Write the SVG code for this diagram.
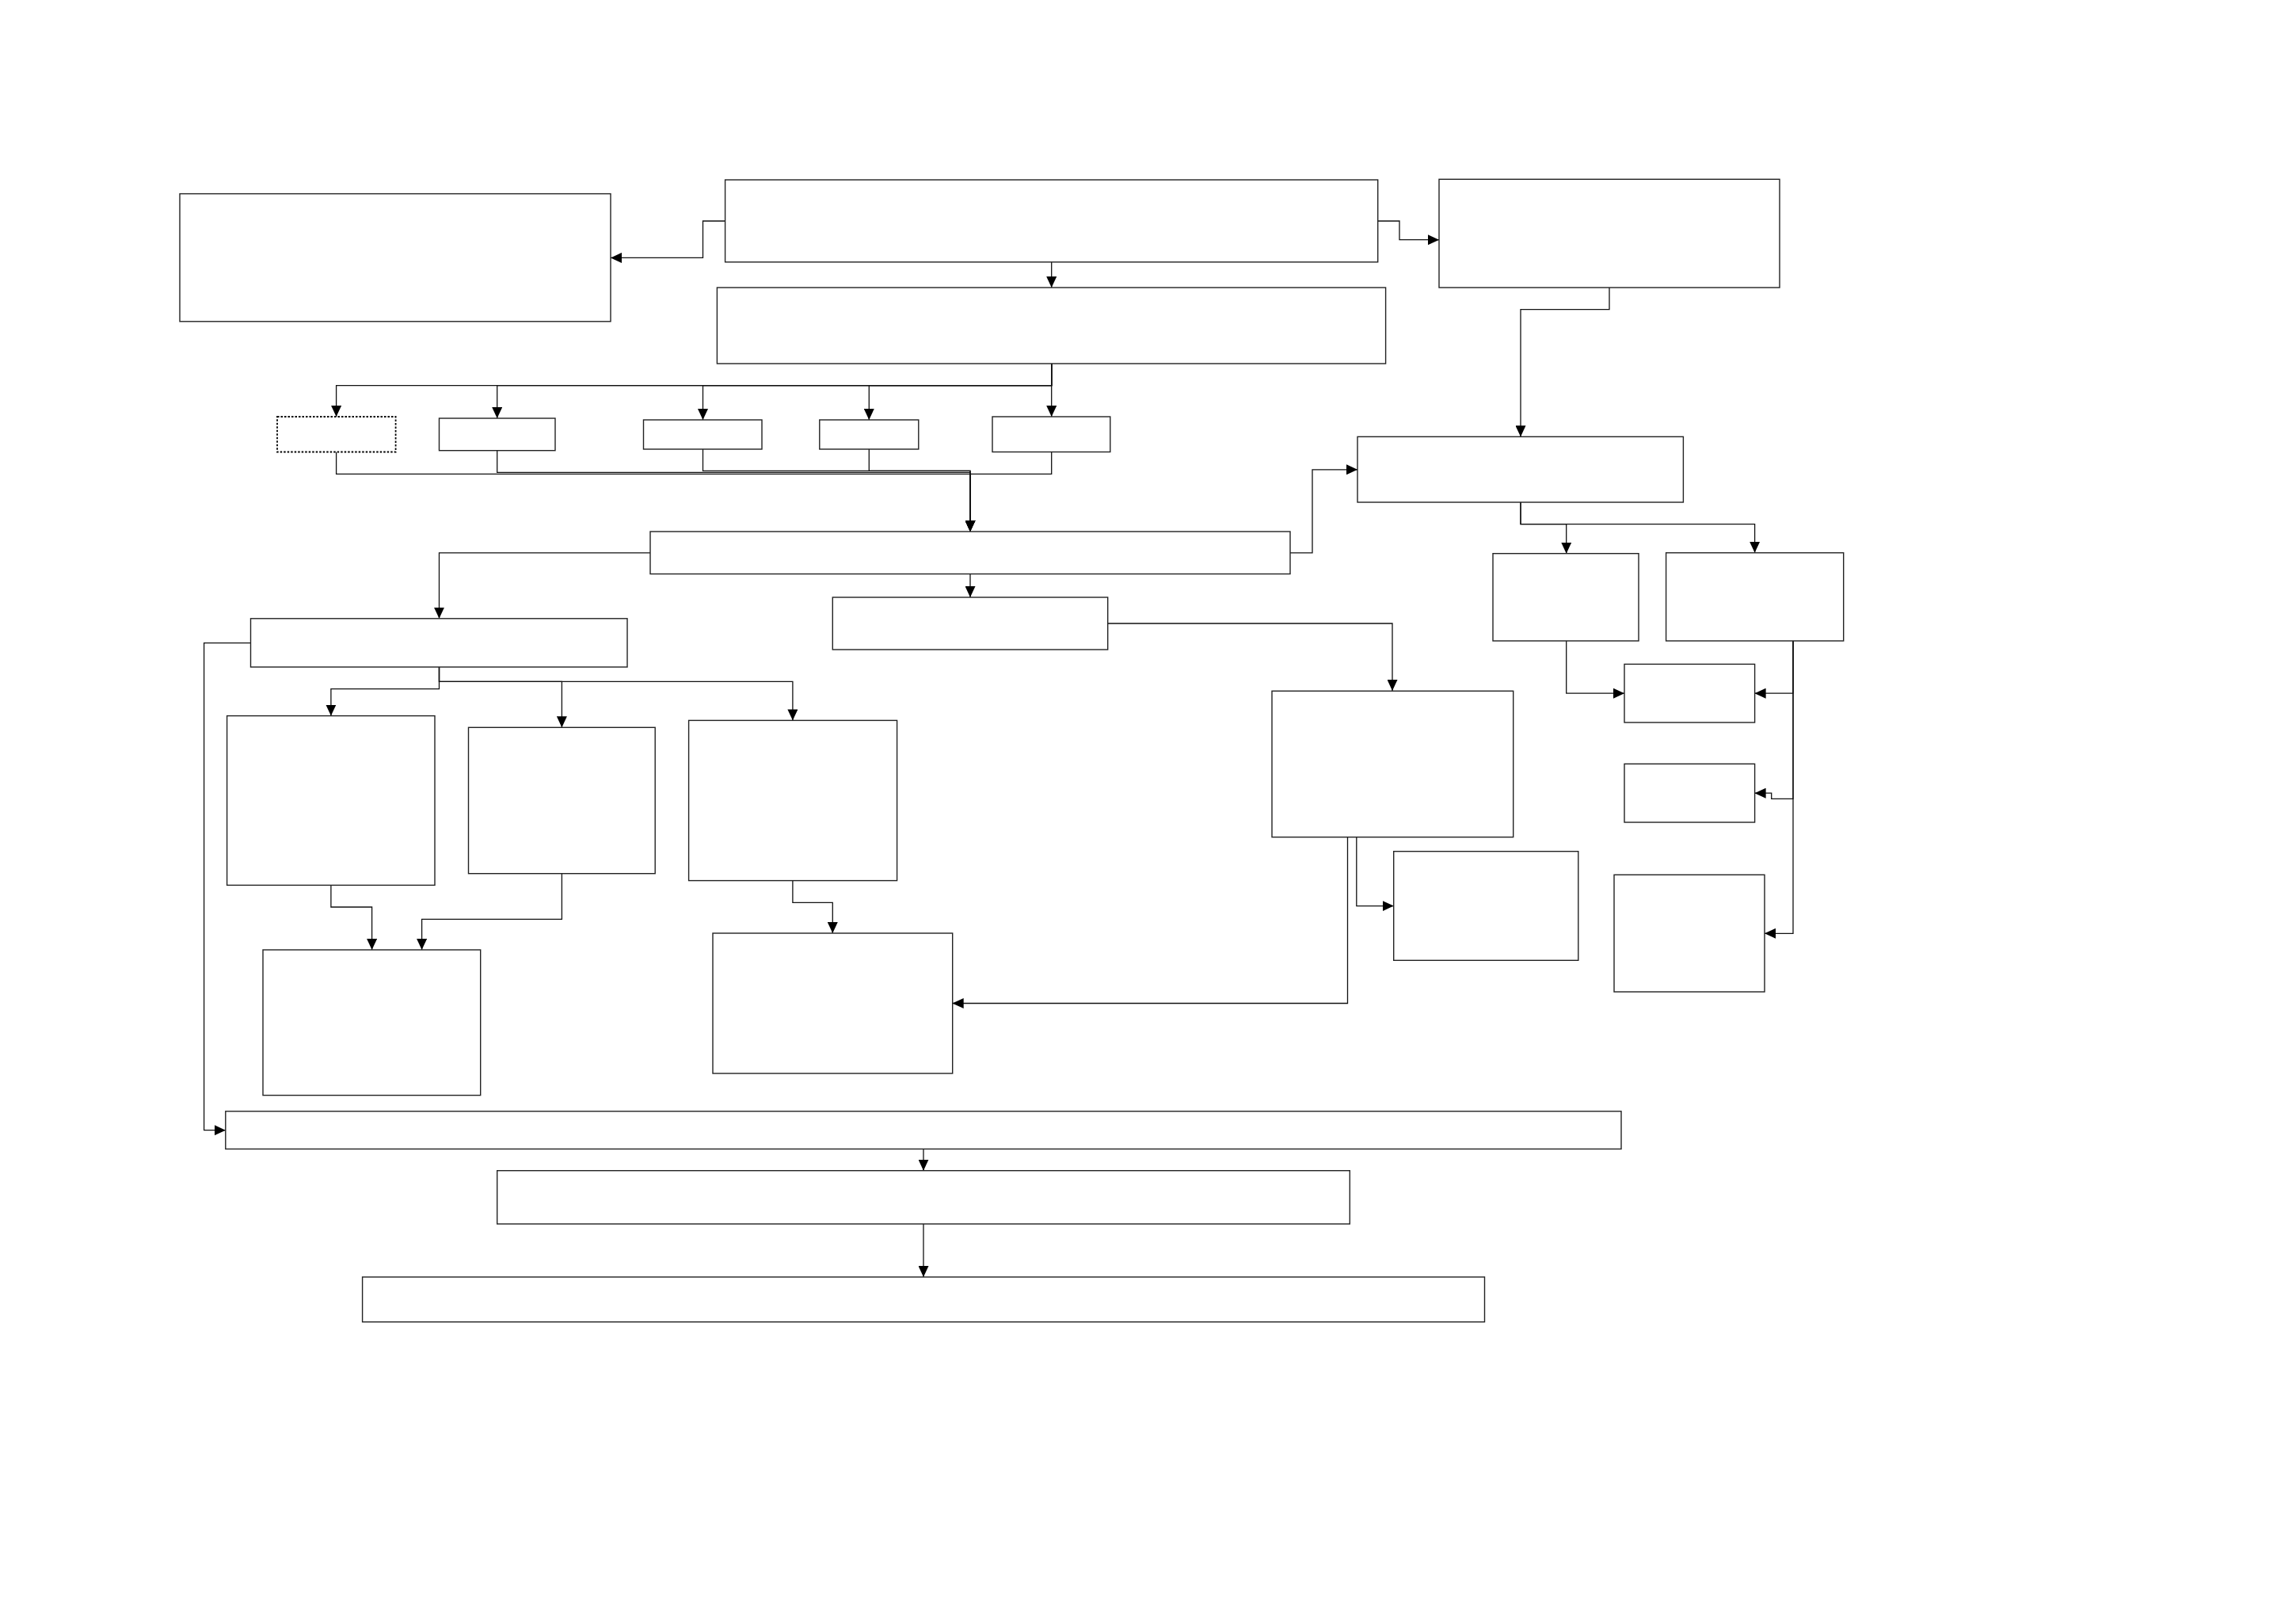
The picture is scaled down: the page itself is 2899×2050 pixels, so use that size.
<svg xmlns="http://www.w3.org/2000/svg" width="2899" height="2050" viewBox="0 0 2899 2050">
<style>
.n rect{fill:#fff;stroke:#222;stroke-width:1.4}
.n rect.dot{stroke:#000;stroke-dasharray:2.5 2;stroke-width:1.8}
#connectors path{fill:none;stroke:#111;stroke-width:1.3}
</style>
<defs>
<marker id="ah" markerUnits="userSpaceOnUse" markerWidth="14" markerHeight="13" refX="14" refY="6.5" orient="auto">
<path d="M0,0 L14,6.5 L0,13 z" fill="#000"/>
</marker>
</defs>
<rect width="2899" height="2050" fill="#fff"/>
<g id="connectors">
<path d="M915.6,279 H887.5 V325.4 H771" marker-end="url(#ah)"/>
<path d="M1739.7,279 H1767 V302.7 H1817" marker-end="url(#ah)"/>
<path d="M1327.7,330.8 V363" marker-end="url(#ah)"/>
<path d="M1327.7,459 V486.6 H424.6 V526" marker-end="url(#ah)"/>
<path d="M1327.7,459 V486.6 H627.7 V528" marker-end="url(#ah)"/>
<path d="M1327.7,459 V486.6 H887.5 V530" marker-end="url(#ah)"/>
<path d="M1327.7,459 V486.6 H1097.3 V530" marker-end="url(#ah)"/>
<path d="M1327.7,459 V526" marker-end="url(#ah)"/>
<path d="M424.6,570.5 V598.3 H1225 V671" marker-end="url(#ah)"/>
<path d="M627.7,568.7 V596.3 H1225 V671" marker-end="url(#ah)"/>
<path d="M887.5,567 V594.3 H1225 V671" marker-end="url(#ah)"/>
<path d="M1097.3,567 V594.3 H1225 V671" marker-end="url(#ah)"/>
<path d="M1327.7,570.5 V598.3 H1225 V671" marker-end="url(#ah)"/>
<path d="M1629,697.8 H1657 V592.8 H1714" marker-end="url(#ah)"/>
<path d="M821,697.8 H554.5 V780.8" marker-end="url(#ah)"/>
<path d="M1225,724.5 V754" marker-end="url(#ah)"/>
<path d="M1398.7,787 H1758 V872" marker-end="url(#ah)"/>
<path d="M2032,363 V390.6 H1920 V551.3" marker-end="url(#ah)"/>
<path d="M1920,634 V661.6 H1977.7 V698.7" marker-end="url(#ah)"/>
<path d="M1920,634 V661.6 H2215.6 V697.8" marker-end="url(#ah)"/>
<path d="M1977.7,809 V875.2 H2051" marker-end="url(#ah)"/>
<path d="M2264,809 V875.2 H2215.6" marker-end="url(#ah)"/>
<path d="M2264,809 V1008.3 H2236.7 V1001.2 H2215.6" marker-end="url(#ah)"/>
<path d="M2264,809 V1178.3 H2228" marker-end="url(#ah)"/>
<path d="M1712.8,1056.7 V1143.6 H1759.7" marker-end="url(#ah)"/>
<path d="M1701.5,1056.7 V1266.5 H1202.7" marker-end="url(#ah)"/>
<path d="M554.5,842 V869.6 H417.9 V903.6" marker-end="url(#ah)"/>
<path d="M554.5,842 V860.3 H709.4 V918.3" marker-end="url(#ah)"/>
<path d="M554.5,842 V860.3 H1000.9 V909.4" marker-end="url(#ah)"/>
<path d="M417.9,1117.4 V1145 H469.6 V1199" marker-end="url(#ah)"/>
<path d="M709.4,1102.7 V1160.3 H532.6 V1199" marker-end="url(#ah)"/>
<path d="M1000.9,1111.6 V1139.3 H1051.3 V1178" marker-end="url(#ah)"/>
<path d="M316.5,811.6 H257.6 V1426.7 H284.8" marker-end="url(#ah)"/>
<path d="M1166,1450.4 V1477.7" marker-end="url(#ah)"/>
<path d="M1166,1545 V1612" marker-end="url(#ah)"/>
</g>
<g class="n" id="nodeA"><rect x="227" y="244.6" width="544" height="161.2"/></g>
<g class="n" id="nodeB"><rect x="915.6" y="227" width="824.1" height="103.8"/></g>
<g class="n" id="nodeC"><rect x="1817" y="226.3" width="430" height="136.7"/></g>
<g class="n" id="nodeD"><rect x="905.4" y="363" width="844.2" height="96"/></g>
<g class="n" id="nodeS1"><rect class="dot" x="350" y="526" width="149.6" height="44.5"/></g>
<g class="n" id="nodeS2"><rect x="554.5" y="528" width="146.5" height="40.7"/></g>
<g class="n" id="nodeS3"><rect x="812.5" y="530" width="149.5" height="37"/></g>
<g class="n" id="nodeS4"><rect x="1034.8" y="530" width="125" height="37"/></g>
<g class="n" id="nodeS5"><rect x="1253" y="526" width="148.8" height="44.5"/></g>
<g class="n" id="nodeE"><rect x="821" y="671" width="808" height="53.5"/></g>
<g class="n" id="nodeF"><rect x="1714" y="551.3" width="411.4" height="82.7"/></g>
<g class="n" id="nodeG"><rect x="316.5" y="780.8" width="475.5" height="61.2"/></g>
<g class="n" id="nodeH"><rect x="1051.3" y="754" width="347.4" height="66"/></g>
<g class="n" id="nodeI"><rect x="1885" y="698.7" width="184" height="110.3"/></g>
<g class="n" id="nodeJ"><rect x="2103.6" y="697.8" width="224.1" height="111.2"/></g>
<g class="n" id="nodeK"><rect x="2051" y="838.4" width="164.6" height="73.6"/></g>
<g class="n" id="nodeL"><rect x="2051" y="964.3" width="164.6" height="73.7"/></g>
<g class="n" id="nodeM"><rect x="2038" y="1104.3" width="190" height="147.7"/></g>
<g class="n" id="nodeN"><rect x="1606" y="872.3" width="304.7" height="184.4"/></g>
<g class="n" id="nodeO"><rect x="1759.7" y="1074.7" width="233.1" height="137.6"/></g>
<g class="n" id="nodeP"><rect x="286.6" y="903.6" width="262.4" height="213.8"/></g>
<g class="n" id="nodeQ"><rect x="591.5" y="918.3" width="235.7" height="184.4"/></g>
<g class="n" id="nodeR"><rect x="869.6" y="909.4" width="263" height="202.2"/></g>
<g class="n" id="nodeS"><rect x="332" y="1199" width="274.7" height="183.6"/></g>
<g class="n" id="nodeT"><rect x="900" y="1178" width="302.7" height="177"/></g>
<g class="n" id="nodeU"><rect x="284.8" y="1402.8" width="1762.2" height="47.6"/></g>
<g class="n" id="nodeV"><rect x="627.7" y="1477.7" width="1076.6" height="67.3"/></g>
<g class="n" id="nodeW"><rect x="457.6" y="1612" width="1416.9" height="56.7"/></g>
</svg>
